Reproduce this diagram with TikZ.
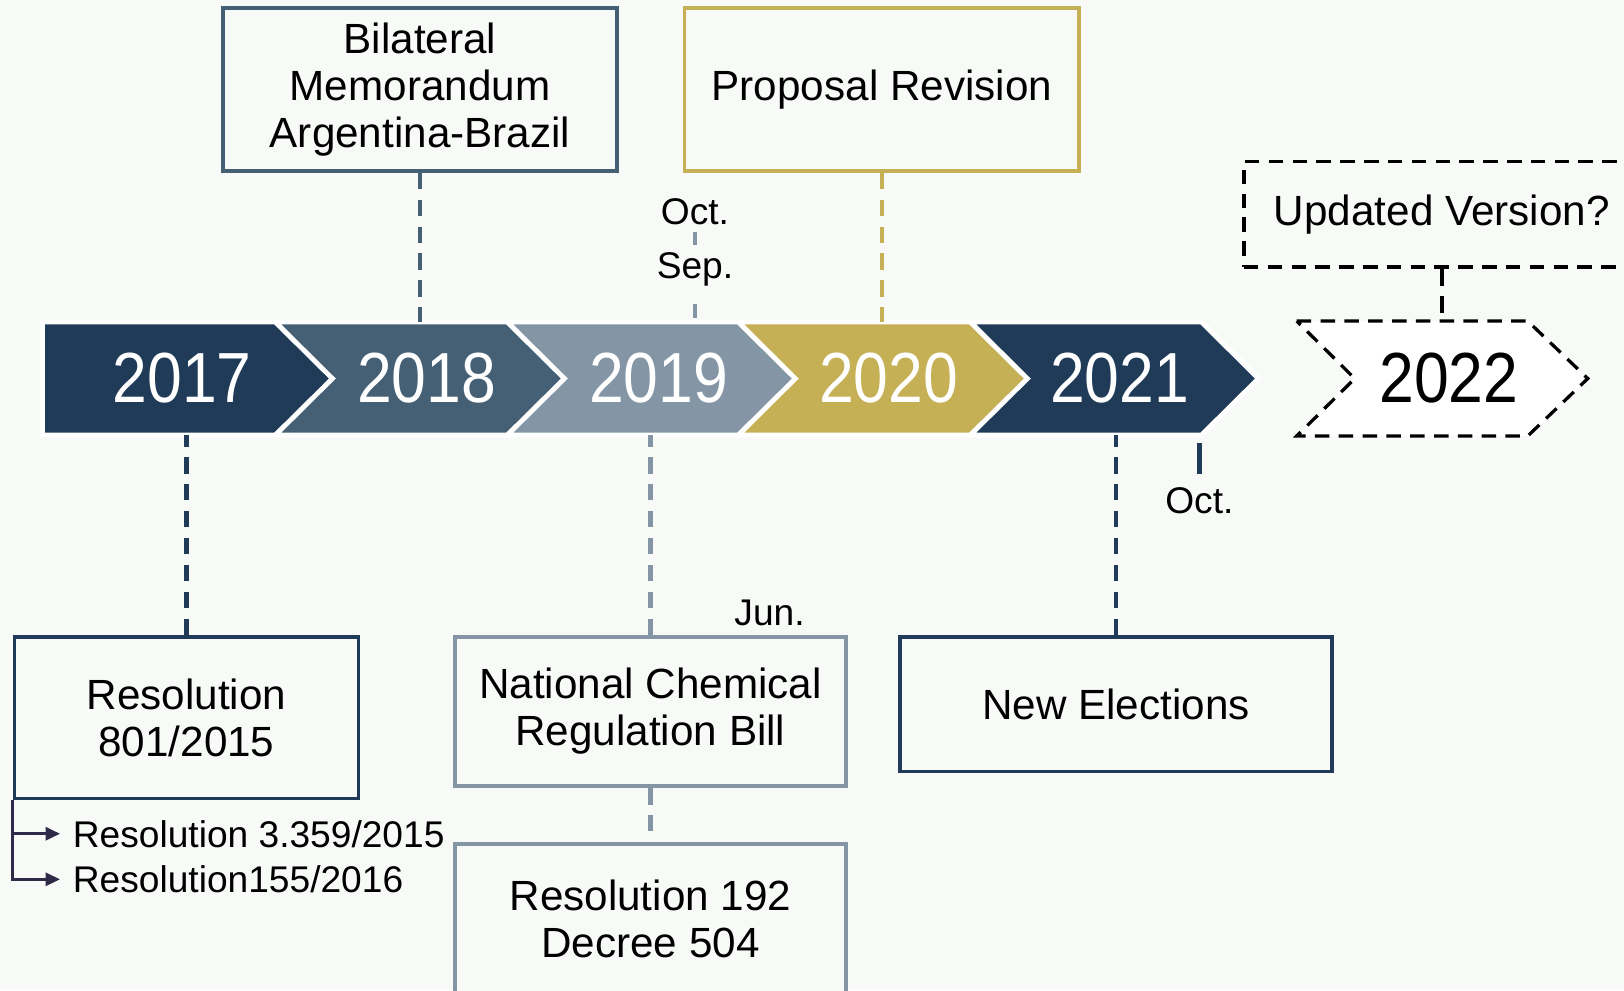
\documentclass[tikz,border=0pt]{standalone}
\usepackage{fontspec}
\setmainfont{Liberation Sans}
\newfontfamily\yearfont[FakeStretch=0.88]{Liberation Sans}
\usetikzlibrary{arrows.meta,positioning}
\definecolor{navy}{HTML}{1F3B57}
\definecolor{slate}{HTML}{455F75}
\definecolor{steel}{HTML}{8496A5}
\definecolor{gold}{HTML}{C6B055}
\definecolor{paper}{HTML}{F8FAF8}
\definecolor{ink}{HTML}{2E2A48}
\newcommand{\boxfont}{\fontsize{11.6}{12.9}\selectfont}
\newcommand{\datefont}{\fontsize{10.2}{11}\selectfont}

\begin{document}
\begin{tikzpicture}[>={Triangle[length=4pt,width=3.6pt]},
  event/.style={draw, line width=1pt, fill=paper, align=center, font=\boxfont, inner sep=0pt},
  link/.style={line width=1.2pt, dash pattern=on 0.16cm off 0.1cm},
  seg/.style={draw=white, line width=1.3pt, line join=miter},
  yearlbl/.style={font={\yearfont\fontsize{19.5}{20}\selectfont}, text=white}]
  \fill[paper] (0,0) rectangle (15.68,-9.56);
  \useasboundingbox (0,0) rectangle (15.68,-9.56);
  \coordinate (bandtop) at (0,-3.11);
  \coordinate (bandbot) at (0,-4.20);
  % year band
  \filldraw[fill=navy,seg] (0.41,-3.11) -- (2.66,-3.11) -- (3.21,-3.655) -- (2.66,-4.20) -- (0.41,-4.20) -- cycle;
  \filldraw[fill=slate,seg] (2.66,-3.11) -- (4.90,-3.11) -- (5.45,-3.655) -- (4.90,-4.20) -- (2.66,-4.20) -- (3.21,-3.655) -- cycle;
  \filldraw[fill=steel,seg] (4.90,-3.11) -- (7.13,-3.11) -- (7.68,-3.655) -- (7.13,-4.20) -- (4.90,-4.20) -- (5.45,-3.655) -- cycle;
  \filldraw[fill=gold,seg] (7.13,-3.11) -- (9.37,-3.11) -- (9.92,-3.655) -- (9.37,-4.20) -- (7.13,-4.20) -- (7.68,-3.655) -- cycle;
  \filldraw[fill=navy,seg] (9.37,-3.11) -- (11.60,-3.11) -- (12.15,-3.655) -- (11.60,-4.20) -- (9.37,-4.20) -- (9.92,-3.655) -- cycle;
  \filldraw[fill=white,draw=black,line width=0.9pt,dash pattern=on 0.14cm off 0.09cm] (12.52,-3.10) -- (14.75,-3.10) -- (15.33,-3.655) -- (14.75,-4.21) -- (12.52,-4.21) -- (13.08,-3.655) -- cycle;
  \node[yearlbl] (y17) at (1.76,-3.655) {2017};
  \node[yearlbl] (y18) at (4.12,-3.655) {2018};
  \node[yearlbl] (y19) at (6.36,-3.655) {2019};
  \node[yearlbl] (y20) at (8.58,-3.655) {2020};
  \node[yearlbl] (y21) at (10.81,-3.655) {2021};
  \node[yearlbl,text=black] (y22) at (13.99,-3.655) {2022};
  % events above
  \node[event,draw=slate,minimum width=3.81cm,minimum height=1.57cm] (memo) at (4.055,-0.865) {Bilateral\\Memorandum\\Argentina-Brazil};
  \node[event,draw=gold,minimum width=3.81cm,minimum height=1.57cm] (revise) at (8.515,-0.865) {Proposal Revision};
  \node[event,draw=black,dash pattern=on 0.14cm off 0.09cm,minimum width=3.82cm,minimum height=1.02cm] (update) at (13.92,-2.07) {Updated Version?};
  \node[font=\datefont,inner sep=1pt] (oct19) at (6.71,-2.04) {Oct.};
  \node[font=\datefont,inner sep=1pt] (sep19) at (6.71,-2.60) {Sep.};
  % events below
  \node[event,draw=navy,minimum width=3.32cm,minimum height=1.56cm] (res801) at (1.80,-6.93) {Resolution\\801/2015};
  \node[event,draw=steel,minimum width=3.78cm,minimum height=1.44cm] (bill) at (6.28,-6.87) {National Chemical\\Regulation Bill};
  \node[event,draw=steel,minimum width=3.78cm,minimum height=1.44cm] (res192) at (6.28,-8.87) {Resolution 192\\Decree 504};
  \node[event,draw=navy,minimum width=4.17cm,minimum height=1.30cm] (elect) at (10.775,-6.80) {New Elections};
  \node[font=\datefont] (jun) at (7.43,-5.92) {Jun.};
  \node[font=\datefont] (oct21) at (11.58,-4.83) {Oct.};
  \node[font=\datefont,anchor=west] (res3359) at (0.58,-8.05) {Resolution 3.359/2015};
  \node[font=\datefont,anchor=west] (res155) at (0.58,-8.49) {Resolution155/2016};
  % connectors
  \draw[link,slate] (memo.south) -- (memo.south |- bandtop);
  \draw[link,gold] (revise.south) -- (revise.south |- bandtop);
  \draw[link,black] (update.south) -- (update.south |- bandtop);
  \draw[steel,line width=1.2pt,shorten <=0.03cm,shorten >=0.03cm] (oct19.south) -- (sep19.north);
  \draw[steel,line width=1.2pt,shorten <=0.13cm,shorten >=0.04cm] (sep19.south) -- (sep19.south |- bandtop);
  \draw[link,navy] (res801.north) -- (res801.north |- bandbot);
  \draw[link,steel] (bill.north) -- (bill.north |- bandbot);
  \draw[link,steel] (bill.south) -- (res192.north);
  \draw[link,navy] (elect.north) -- (elect.north |- bandbot);
  \draw[navy,line width=1.2pt,shorten <=0.08cm] (oct21.north |- bandbot) -- (oct21.north);
  \draw[->,ink,line width=0.8pt] (res801.south west) |- (res3359.west);
  \draw[->,ink,line width=0.8pt] (res801.south west) |- (res155.west);
\end{tikzpicture}
\end{document}
